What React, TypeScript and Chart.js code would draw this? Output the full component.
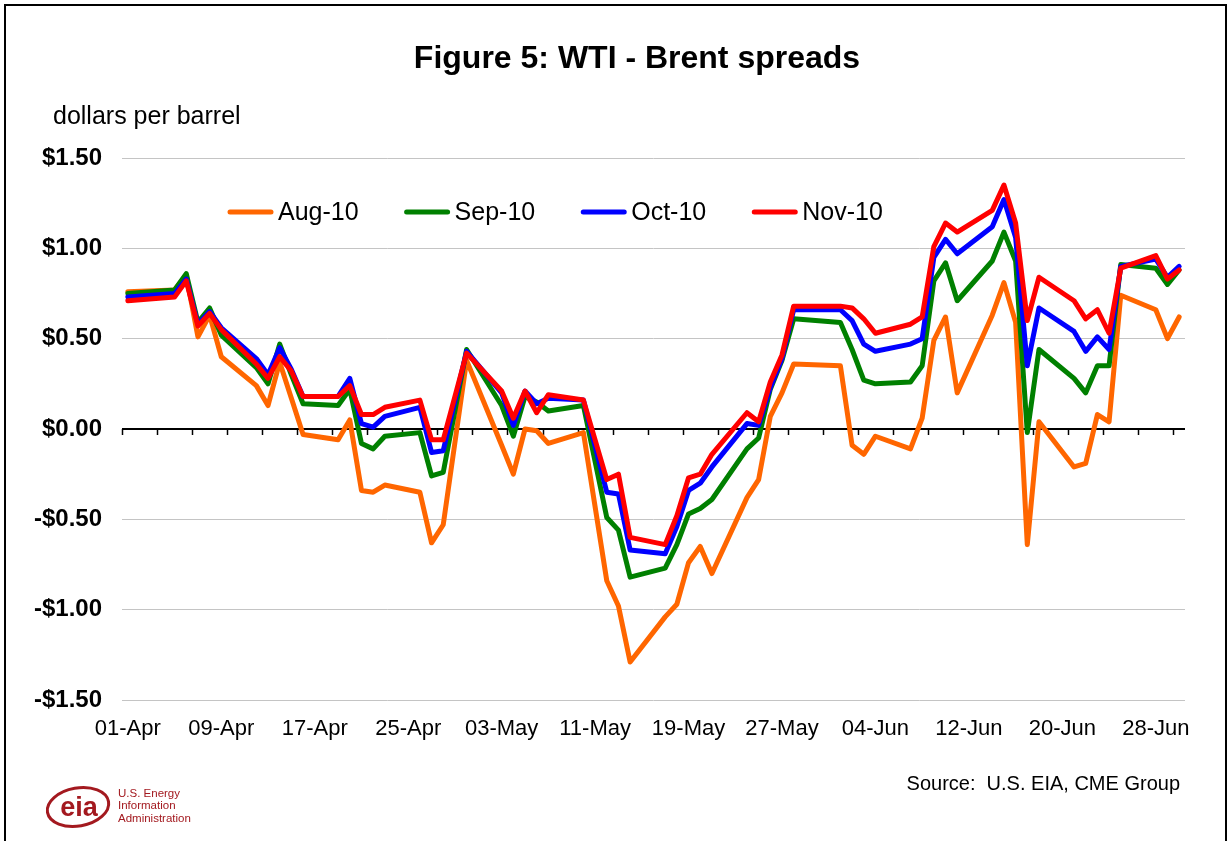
import React, { useEffect, useRef } from 'react';
import { Chart, registerables } from 'chart.js';

Chart.register(...registerables);

// ---- Data (2010 trading days, MM-DD) ----
const dates = [
  '04-01', '04-05', '04-06', '04-07', '04-08', '04-09', '04-12', '04-13', '04-14', '04-15',
  '04-16', '04-19', '04-20', '04-21', '04-22', '04-23', '04-26', '04-27', '04-28', '04-30',
  '05-03', '05-04', '05-05', '05-06', '05-07', '05-10', '05-12', '05-13', '05-14', '05-17',
  '05-18', '05-19', '05-20', '05-21', '05-24', '05-25', '05-26', '05-27', '05-28', '06-01',
  '06-02', '06-03', '06-04', '06-07', '06-08', '06-09', '06-10', '06-11', '06-14', '06-15',
  '06-16', '06-17', '06-18', '06-21', '06-22', '06-23', '06-24', '06-25', '06-28', '06-29',
  '06-30',
];

const aug10 = [
  0.76, 0.77, 0.85, 0.51, 0.63, 0.40, 0.24, 0.13, 0.37, 0.17,
  -0.03, -0.06, 0.05, -0.34, -0.35, -0.31, -0.35, -0.63, -0.53, 0.38,
  -0.09, -0.25, 0.00, -0.01, -0.08, -0.02, -0.84, -0.98, -1.29, -1.04,
  -0.97, -0.74, -0.65, -0.80, -0.38, -0.28, 0.07, 0.20, 0.36, 0.35,
  -0.09, -0.14, -0.04, -0.11, 0.06, 0.49, 0.62, 0.20, 0.63, 0.81,
  0.59, -0.64, 0.04, -0.21, -0.19, 0.08, 0.04, 0.74, 0.66, 0.50,
  0.62,
];

const sep10 = [
  0.75, 0.77, 0.86, 0.59, 0.67, 0.52, 0.34, 0.25, 0.47, 0.30,
  0.14, 0.13, 0.22, -0.08, -0.11, -0.04, -0.02, -0.26, -0.24, 0.44,
  0.13, -0.04, 0.18, 0.15, 0.10, 0.13, -0.49, -0.56, -0.82, -0.77,
  -0.64, -0.47, -0.44, -0.39, -0.11, -0.05, 0.22, 0.38, 0.61, 0.59,
  0.44, 0.27, 0.25, 0.26, 0.35, 0.82, 0.92, 0.71, 0.93, 1.09,
  0.93, -0.02, 0.44, 0.28, 0.20, 0.35, 0.35, 0.91, 0.89, 0.80,
  0.88,
];

const oct10 = [
  0.73, 0.75, 0.83, 0.58, 0.65, 0.56, 0.39, 0.30, 0.45, 0.33,
  0.18, 0.18, 0.28, 0.03, 0.01, 0.07, 0.12, -0.13, -0.12, 0.43,
  0.20, 0.02, 0.21, 0.14, 0.17, 0.16, -0.35, -0.36, -0.67, -0.69,
  -0.54, -0.34, -0.30, -0.21, 0.03, 0.02, 0.23, 0.39, 0.66, 0.66,
  0.60, 0.47, 0.43, 0.47, 0.50, 0.95, 1.05, 0.97, 1.12, 1.27,
  1.06, 0.35, 0.67, 0.54, 0.43, 0.51, 0.44, 0.90, 0.94, 0.84,
  0.90,
];

const nov10 = [
  0.71, 0.73, 0.82, 0.57, 0.64, 0.55, 0.36, 0.28, 0.40, 0.32,
  0.18, 0.18, 0.24, 0.08, 0.08, 0.12, 0.16, -0.06, -0.06, 0.42,
  0.21, 0.06, 0.21, 0.09, 0.19, 0.16, -0.28, -0.25, -0.60, -0.64,
  -0.48, -0.27, -0.25, -0.14, 0.09, 0.04, 0.26, 0.41, 0.68, 0.68,
  0.67, 0.61, 0.53, 0.58, 0.62, 1.01, 1.14, 1.09, 1.21, 1.35,
  1.14, 0.60, 0.84, 0.71, 0.61, 0.66, 0.53, 0.89, 0.96, 0.83,
  0.88,
];

const seriesNames = ['Aug-10', 'Sep-10', 'Oct-10', 'Nov-10'];
const seriesColors = ['#FF6600', '#008000', '#0000FF', '#FF0000'];

const xTickDates = ['04-01', '04-09', '04-17', '04-25', '05-03', '05-11', '05-19', '05-27', '06-04', '06-12', '06-20', '06-28'];
const xTickLabels = ['01-Apr', '09-Apr', '17-Apr', '25-Apr', '03-May', '11-May', '19-May', '27-May', '04-Jun', '12-Jun', '20-Jun', '28-Jun'];
const axisFirstDay = '04-01';
const axisLastDay = '06-30';

const yMin = -1.5;
const yMax = 1.5;
const yStep = 0.5;

const titleText = 'Figure 5: WTI - Brent spreads';
const unitText = 'dollars per barrel';
const sourceText = 'Source:  U.S. EIA, CME Group';

const FONT = '"Liberation Sans", Arial, Helvetica, sans-serif';

const dayOffset = (md: string) => {
  const [m, d] = md.split('-').map(Number);
  return (Date.UTC(2010, m - 1, d) - Date.UTC(2010, 3, 1)) / 86400000;
};

const formatDollar = (v: number) => (v < 0 ? '-' : '') + '$' + Math.abs(v).toFixed(2);

const decorPlugin = {
  id: 'decor',
  beforeDatasetsDraw(chart: any) {
    const { ctx, scales } = chart;
    const x = scales.x;
    const y = scales.y;
    const y0 = Math.round(y.getPixelForValue(0));
    ctx.save();
    ctx.strokeStyle = '#000';
    ctx.lineWidth = 1.5;
    for (let v = x.min; v <= x.max + 1e-6; v += 3) {
      const px = Math.round(x.getPixelForValue(v)) + 0.5;
      ctx.beginPath();
      ctx.moveTo(px, y0);
      ctx.lineTo(px, y0 + 6);
      ctx.stroke();
    }
    ctx.restore();
  },
  afterDraw(chart: any) {
    const { ctx } = chart;
    ctx.save();
    ctx.fillStyle = '#000';
    // title
    ctx.font = `bold 32px ${FONT}`;
    ctx.textAlign = 'center';
    ctx.textBaseline = 'alphabetic';
    ctx.fillText(titleText, 637, 68);
    // unit
    ctx.font = `25px ${FONT}`;
    ctx.textAlign = 'left';
    ctx.fillText(unitText, 53, 124);
    // source
    ctx.font = `20px ${FONT}`;
    ctx.textAlign = 'right';
    ctx.fillText(sourceText, 1180, 790);
    // legend
    ctx.font = `25px ${FONT}`;
    ctx.textAlign = 'left';
    ctx.textBaseline = 'middle';
    let lx = 228;
    const ly = 212;
    chart.data.datasets.forEach((ds: any) => {
      ctx.strokeStyle = ds.borderColor;
      ctx.lineWidth = 5;
      ctx.lineCap = 'round';
      ctx.beginPath();
      ctx.moveTo(lx + 2, ly);
      ctx.lineTo(lx + 43, ly);
      ctx.stroke();
      ctx.fillStyle = '#000';
      ctx.fillText(ds.label, lx + 50, ly + 1);
      lx += 50 + ctx.measureText(ds.label).width + 46;
    });
    ctx.restore();
  },
};

export default function App() {
  const ref = useRef<HTMLCanvasElement>(null);

  useEffect(() => {
    if (!ref.current) return;
    const seriesValues = [aug10, sep10, oct10, nov10];
    const datasets = seriesValues.map((vals, i) => ({
      label: seriesNames[i],
      data: dates.map((d, j) => ({ x: dayOffset(d), y: vals[j] })),
      borderColor: seriesColors[i],
      backgroundColor: seriesColors[i],
      borderWidth: 5,
      pointRadius: 0,
      tension: 0,
      fill: false,
      borderJoinStyle: 'round' as const,
      borderCapStyle: 'round' as const,
      order: seriesValues.length - i,
    }));

    const chart = new Chart(ref.current, {
      type: 'line',
      data: { datasets },
      options: {
        responsive: false,
        animation: false,
        devicePixelRatio: 1,
        layout: { padding: { left: 0, right: 47, top: 158, bottom: 0 } },
        plugins: {
          legend: { display: false },
          title: { display: false },
          tooltip: { enabled: false },
        },
        scales: {
          x: {
            type: 'linear',
            min: dayOffset(axisFirstDay) - 0.5,
            max: dayOffset(axisLastDay) + 0.5,
            grid: { display: false, drawTicks: false },
            border: { display: false },
            afterBuildTicks: (scale: any) => {
              scale.ticks = xTickDates.map((d) => ({ value: dayOffset(d) }));
            },
            afterFit: (scale: any) => {
              scale.height = 141;
            },
            ticks: {
              autoSkip: false,
              maxRotation: 0,
              padding: 16,
              color: '#000',
              font: { family: FONT, size: 22 },
              callback: (value: any) => {
                const idx = xTickDates.findIndex((d) => dayOffset(d) === value);
                return idx >= 0 ? xTickLabels[idx] : '';
              },
            },
          },
          y: {
            type: 'linear',
            min: yMin,
            max: yMax,
            border: { display: false },
            grid: {
              drawTicks: false,
              color: (c: any) => (c.tick && c.tick.value === 0 ? '#000000' : '#c4c4c4'),
              lineWidth: (c: any) => (c.tick && c.tick.value === 0 ? 2 : 1),
            },
            afterFit: (scale: any) => {
              scale.width = 122;
            },
            ticks: {
              stepSize: yStep,
              padding: 20,
              color: '#000',
              font: { family: FONT, size: 24, weight: 'bold' },
              callback: (value: any) => formatDollar(Number(value)),
            },
          },
        },
      },
      plugins: [decorPlugin],
    } as any);

    return () => chart.destroy();
  }, []);

  const logoRed = '#a3191f';

  return (
    <div style={{ position: 'absolute', left: 0, top: 0, width: 1232, height: 841, background: '#fff', overflow: 'hidden' }}>
      <div
        style={{
          position: 'absolute',
          left: 4,
          top: 4,
          width: 1223,
          height: 900,
          boxSizing: 'border-box',
          border: '2px solid #000',
        }}
      />
      <canvas
        ref={ref}
        width={1232}
        height={841}
        style={{ position: 'absolute', left: 0, top: 0, width: 1232, height: 841 }}
      />
      <svg width={170} height={54} style={{ position: 'absolute', left: 40, top: 780 }}>
        <ellipse cx={38} cy={27} rx={31} ry={19} fill="none" stroke={logoRed} strokeWidth={3} transform="rotate(-10 38 27)" />
        <text x={39} y={36} textAnchor="middle" fontFamily={FONT} fontWeight="bold" fontSize={27} fill={logoRed}>
          eia
        </text>
        <text x={78} y={17} fontFamily={FONT} fontSize={11.5} fill={logoRed}>U.S. Energy</text>
        <text x={78} y={29} fontFamily={FONT} fontSize={11.5} fill={logoRed}>Information</text>
        <text x={78} y={42} fontFamily={FONT} fontSize={11.5} fill={logoRed}>Administration</text>
      </svg>
    </div>
  );
}
